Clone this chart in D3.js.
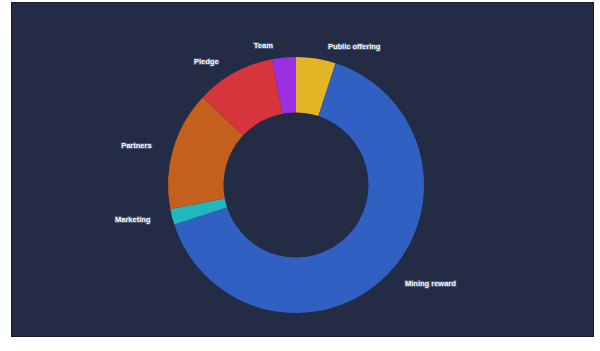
<!DOCTYPE html>
<html>
<head>
<meta charset="utf-8">
<script src="https://cdn.jsdelivr.net/npm/d3@7/dist/d3.min.js"></script>
<style>
  html, body { margin: 0; padding: 0; background: #ffffff; }
  svg { display: block; }
</style>
</head>
<body>
<svg id="chart" width="600" height="351"></svg>
<script>
const categories = ["Public offering", "Mining reward", "Marketing", "Partners", "Pledge", "Team"];
const values = [5, 65, 2, 15, 10, 3];
const colors = ["#e2b526", "#3061c2", "#20b7bf", "#c3601d", "#d6353b", "#9b2fe3"];

const W = 600, H = 351;
const svg = d3.select("#chart");

// panel
svg.append("rect")
  .attr("x", 11.5).attr("y", 2.5)
  .attr("width", 582).attr("height", 334)
  .attr("fill", "#232b45")
  .attr("stroke", "#151a2e").attr("stroke-width", 1);

const cx = 296, cy = 185;
const innerR = 72.5, outerR = 128, labelR = 140;

const data = categories.map((c, i) => ({ name: c, value: values[i], color: colors[i] }));
const pie = d3.pie().value(d => d.value).sort(null);
const arcs = pie(data);

const arc = d3.arc().innerRadius(innerR).outerRadius(outerR);
const labelArc = d3.arc().innerRadius(labelR).outerRadius(labelR);

const g = svg.append("g").attr("transform", `translate(${cx},${cy})`);

g.selectAll("path.slice")
  .data(arcs)
  .join("path")
  .attr("class", "slice")
  .attr("d", arc)
  .attr("fill", d => d.data.color);

g.selectAll("text.lbl")
  .data(arcs)
  .join("text")
  .attr("class", "lbl")
  .each(function(d) {
    const [x, y] = labelArc.centroid(d);
    const mid = (d.startAngle + d.endAngle) / 2;
    const right = Math.sin(mid) >= 0;
    d3.select(this)
      .attr("x", x + (right ? 10 : -10))
      .attr("y", y)
      .attr("text-anchor", right ? "start" : "end");
  })
  .attr("dominant-baseline", "middle")
  .attr("font-family", "Liberation Sans, Arial, sans-serif")
  .attr("font-size", 7.5)
  .attr("font-weight", "bold")
  .attr("fill", "#ffffff")
  .attr("stroke", "#4a5470")
  .attr("stroke-width", 2)
  .attr("paint-order", "stroke")
  .text(d => d.data.name);
</script>
</body>
</html>
